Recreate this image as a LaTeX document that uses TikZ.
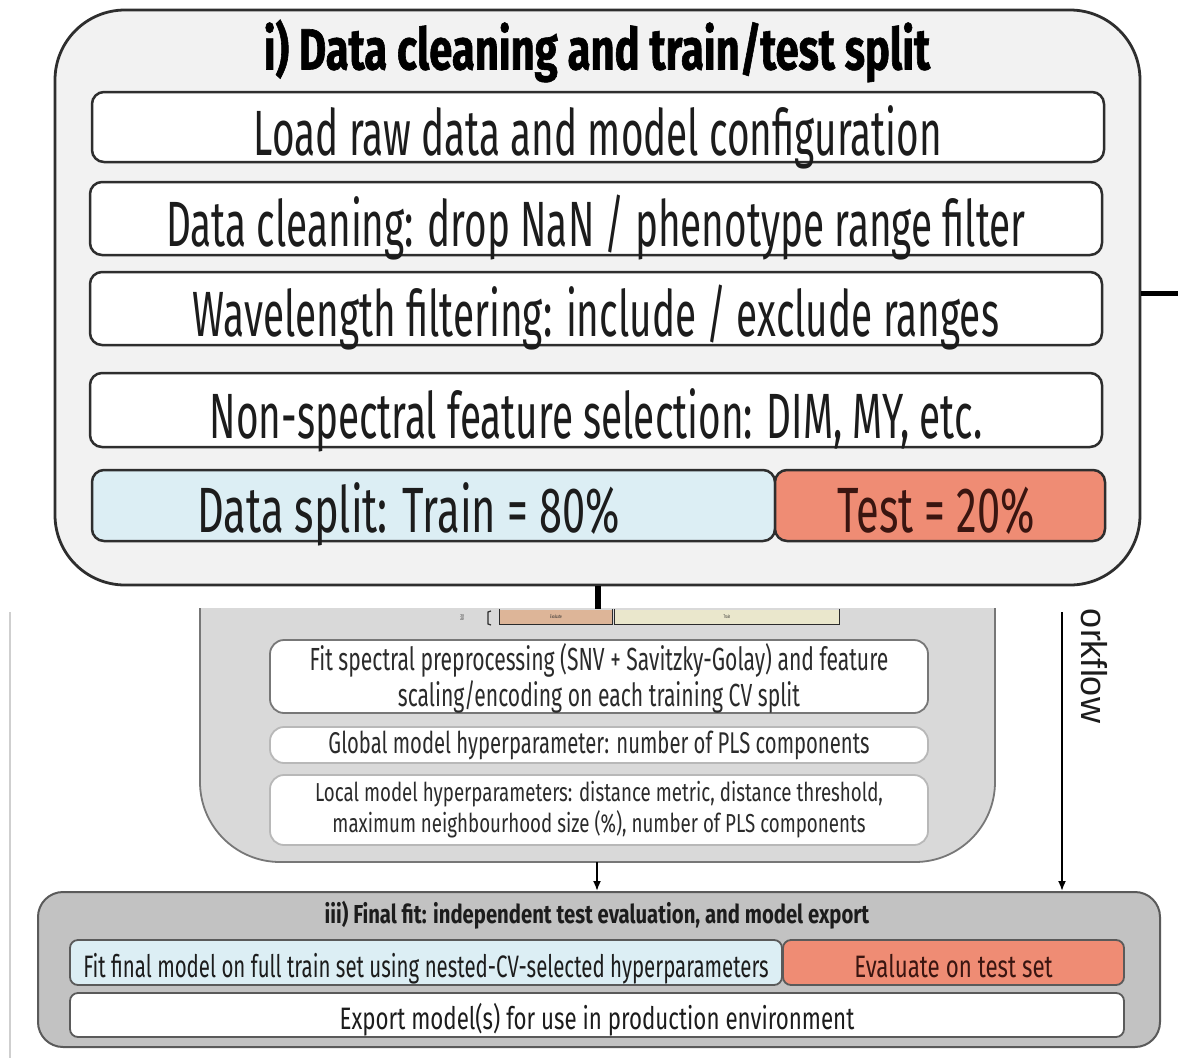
\documentclass[tikz,border=0pt]{standalone}
\usepackage{fontspec}
\setmainfont{Fira Sans}[FakeStretch=0.605]
\newfontfamily\splitfont{Fira Sans}[FakeStretch=0.65]
\newfontfamily\headfont{Fira Sans}[FakeStretch=0.72, BoldFeatures={FakeBold=1}]
\newfontfamily\midfont{Fira Sans}[FakeStretch=0.66]
\newfontfamily\globalfont{Fira Sans}[FakeStretch=0.675]
\newfontfamily\smallfont{Fira Sans}[FakeStretch=0.72]
\newfontfamily\subheadfont{Fira Sans}[FakeStretch=0.78]
\newfontfamily\plainsans{Liberation Sans}
\usetikzlibrary{arrows.meta}

\definecolor{panelgrey}{HTML}{F2F2F2}
\definecolor{edgedark}{HTML}{2E2E2E}
\definecolor{textdark}{HTML}{1C1C1C}
\definecolor{trainblue}{HTML}{DCEEF4}
\definecolor{testsalmon}{HTML}{EF8C74}
\definecolor{testtext}{HTML}{3A1510}
\definecolor{cvgrey}{HTML}{D9D9D9}
\definecolor{cvedge}{HTML}{777777}
\definecolor{cvlight}{HTML}{B8B8B8}
\definecolor{textmid}{HTML}{2B2B2B}
\definecolor{finalgrey}{HTML}{C2C2C2}
\definecolor{finaledge}{HTML}{5A5A5A}
\definecolor{evaltan}{HTML}{DDB598}
\definecolor{trainpale}{HTML}{EAE7CC}
\definecolor{frameline}{HTML}{CFCFCF}

\tikzset{
  panel/.style={draw=edgedark, line width=2.8pt, fill=panelgrey,
    rounded corners=70pt, inner sep=0pt},
  paneltitle/.style={inner sep=0pt, text=black,
    font=\headfont\bfseries\fontsize{58}{60}\selectfont},
  rowbox/.style={draw=edgedark, line width=2.5pt, fill=white,
    rounded corners=12pt, inner sep=0pt, text=textdark,
    text height=56pt, text depth=0pt,
    font=\fontsize{64}{66}\selectfont},
  trainbox/.style={rowbox, fill=trainblue, text height=53pt,
    font=\splitfont\fontsize{64}{66}\selectfont},
  testbox/.style={trainbox, fill=testsalmon, text=testtext},
  cvbox/.style={draw=cvedge, line width=1.8pt, fill=white,
    rounded corners=14pt, inner sep=0pt, align=center, text=textmid,
    font=\midfont\fontsize{32}{36}\selectfont},
  cvsoft/.style={cvbox, draw=cvlight},
  foldbar/.style={inner sep=0pt, font=\fontsize{5}{5}\selectfont, text=textmid},
  finalpanel/.style={draw=finaledge, line width=2pt, fill=finalgrey,
    rounded corners=25pt, inner sep=0pt},
  finaltitle/.style={inner sep=0pt, text=textdark,
    font=\subheadfont\bfseries\fontsize{26}{28}\selectfont},
  finalbox/.style={draw=finaledge, line width=1.8pt, fill=white,
    rounded corners=8pt, inner sep=0pt, text=textdark,
    text height=29pt, text depth=0pt,
    font=\smallfont\fontsize{31}{32}\selectfont},
  heavylink/.style={line width=6pt, black},
  flowarrow/.style={line width=1.8pt, black, -{Latex[length=10pt,width=8pt]}},
}

\begin{document}
\begin{tikzpicture}[x=1pt, y=-1pt]
\useasboundingbox (0,0) rectangle (1178,1058);

% faint outer frame on the left
\draw[frameline, line width=2pt] (10,612) -- (10,1058);

% ii) cross-validation panel (cut away at the top)
\path[fill=cvgrey, draw=cvedge, line width=1.8pt, rounded corners=80pt]
  (200,608) -- (200,862) -- (995,862) -- (995,608);
\coordinate (cvbottom) at (597,862);

% fold strip along the cut edge
\node[foldbar, rotate=90] (foldtag) at (462,618) {Fold};
\draw[textmid, line width=1.2pt] (491,611) -- (488,612) -- (488,624) -- (491,625);
\node[foldbar, fill=evaltan, minimum width=112pt, minimum height=15pt] (evalbar) at (556,617) {Evaluate};
\node[foldbar, fill=trainpale, minimum width=224pt, minimum height=15pt] (trainbar) at (727,617) {Train};
\draw[textmid, line width=1.2pt] (evalbar.north west) |- (evalbar.south east) -- (evalbar.north east);
\draw[textmid, line width=1.2pt] (trainbar.north west) |- (trainbar.south east) -- (trainbar.north east);

\node[cvbox, minimum width=658pt, minimum height=73pt] (prep) at (599,676.5)
  {\rule{0pt}{30pt}Fit spectral preprocessing (SNV + Savitzky-Golay) and feature\\scaling/encoding on each training CV split};
\node[cvsoft, minimum width=658pt, minimum height=36pt, font=\globalfont\fontsize{30}{32}\selectfont] (globalhp) at (599,745)
  {Global model hyperparameter: number of PLS components};
\node[cvsoft, minimum width=658pt, minimum height=70pt, font=\smallfont\fontsize{26}{31}\selectfont] (localhp) at (599,810)
  {Local model hyperparameters: distance metric, distance threshold,\\maximum neighbourhood size (\%), number of PLS components};

% i) data cleaning panel
\node[panel, minimum width=1085pt, minimum height=575pt] (dataprep) at (597.5,297.5) {};
\node[paneltitle] (titlei) at (597,51) {i) Data cleaning and train/test split};
\node[rowbox, minimum width=1012pt, minimum height=70pt] (load) at (598,127)
  {Load raw data and model configuration};
\node[rowbox, minimum width=1012pt, minimum height=73pt] (clean) at (596,218.5)
  {Data cleaning: drop NaN / phenotype range filter};
\node[rowbox, minimum width=1012pt, minimum height=73pt] (wave) at (596,308.5)
  {Wavelength filtering: include / exclude ranges};
\node[rowbox, minimum width=1012pt, minimum height=74pt] (nonspec) at (596,410)
  {Non-spectral feature selection: DIM, MY, etc.};
\node[trainbox, minimum width=683pt, minimum height=71pt] (trainsplit) at (433.5,505.5)
  {Data split: Train = 80\%\hspace*{50pt}};
\node[testbox, minimum width=330pt, minimum height=71pt] (testsplit) at (940,505.5)
  {Test = 20\%\hspace*{8pt}};

% links leaving panel i
\draw[line width=5pt, black] ([yshift=4pt]dataprep.east) -- ++(40,0) coordinate (sideexit);
\draw[heavylink] (dataprep.south) -- (dataprep.south |- evalbar.north);

% iii) final fit panel
\node[finalpanel, minimum width=1122pt, minimum height=155pt] (finalfit) at (599,969.5) {};
\node[finaltitle] (titleiii) at (597,915)
  {iii) Final fit: independent test evaluation, and model export};
\node[finalbox, fill=trainblue, minimum width=712pt, minimum height=45pt,
      font=\midfont\fontsize{31}{32}\selectfont] (fitfinal) at (426,962.5)
  {Fit final model on full train set using nested-CV-selected hyperparameters};
\node[finalbox, fill=testsalmon, text=testtext, minimum width=341pt, minimum height=45pt] (evaltest) at (953.5,962.5)
  {Evaluate on test set};
\node[finalbox, minimum width=1054pt, minimum height=44pt] (export) at (597,1015)
  {Export model(s) for use in production environment};

% arrows into panel iii
\draw[flowarrow] (cvbottom) -- (finalfit.north -| cvbottom);
\coordinate (wftop) at (1062,612);
\draw[flowarrow] (wftop) -- (finalfit.north -| wftop);
\node[rotate=-90, inner sep=0pt, font=\plainsans\fontsize{36}{36}\selectfont, text=textdark] (wflabel) at (1094,666) {orkflow};
\end{tikzpicture}
\end{document}
